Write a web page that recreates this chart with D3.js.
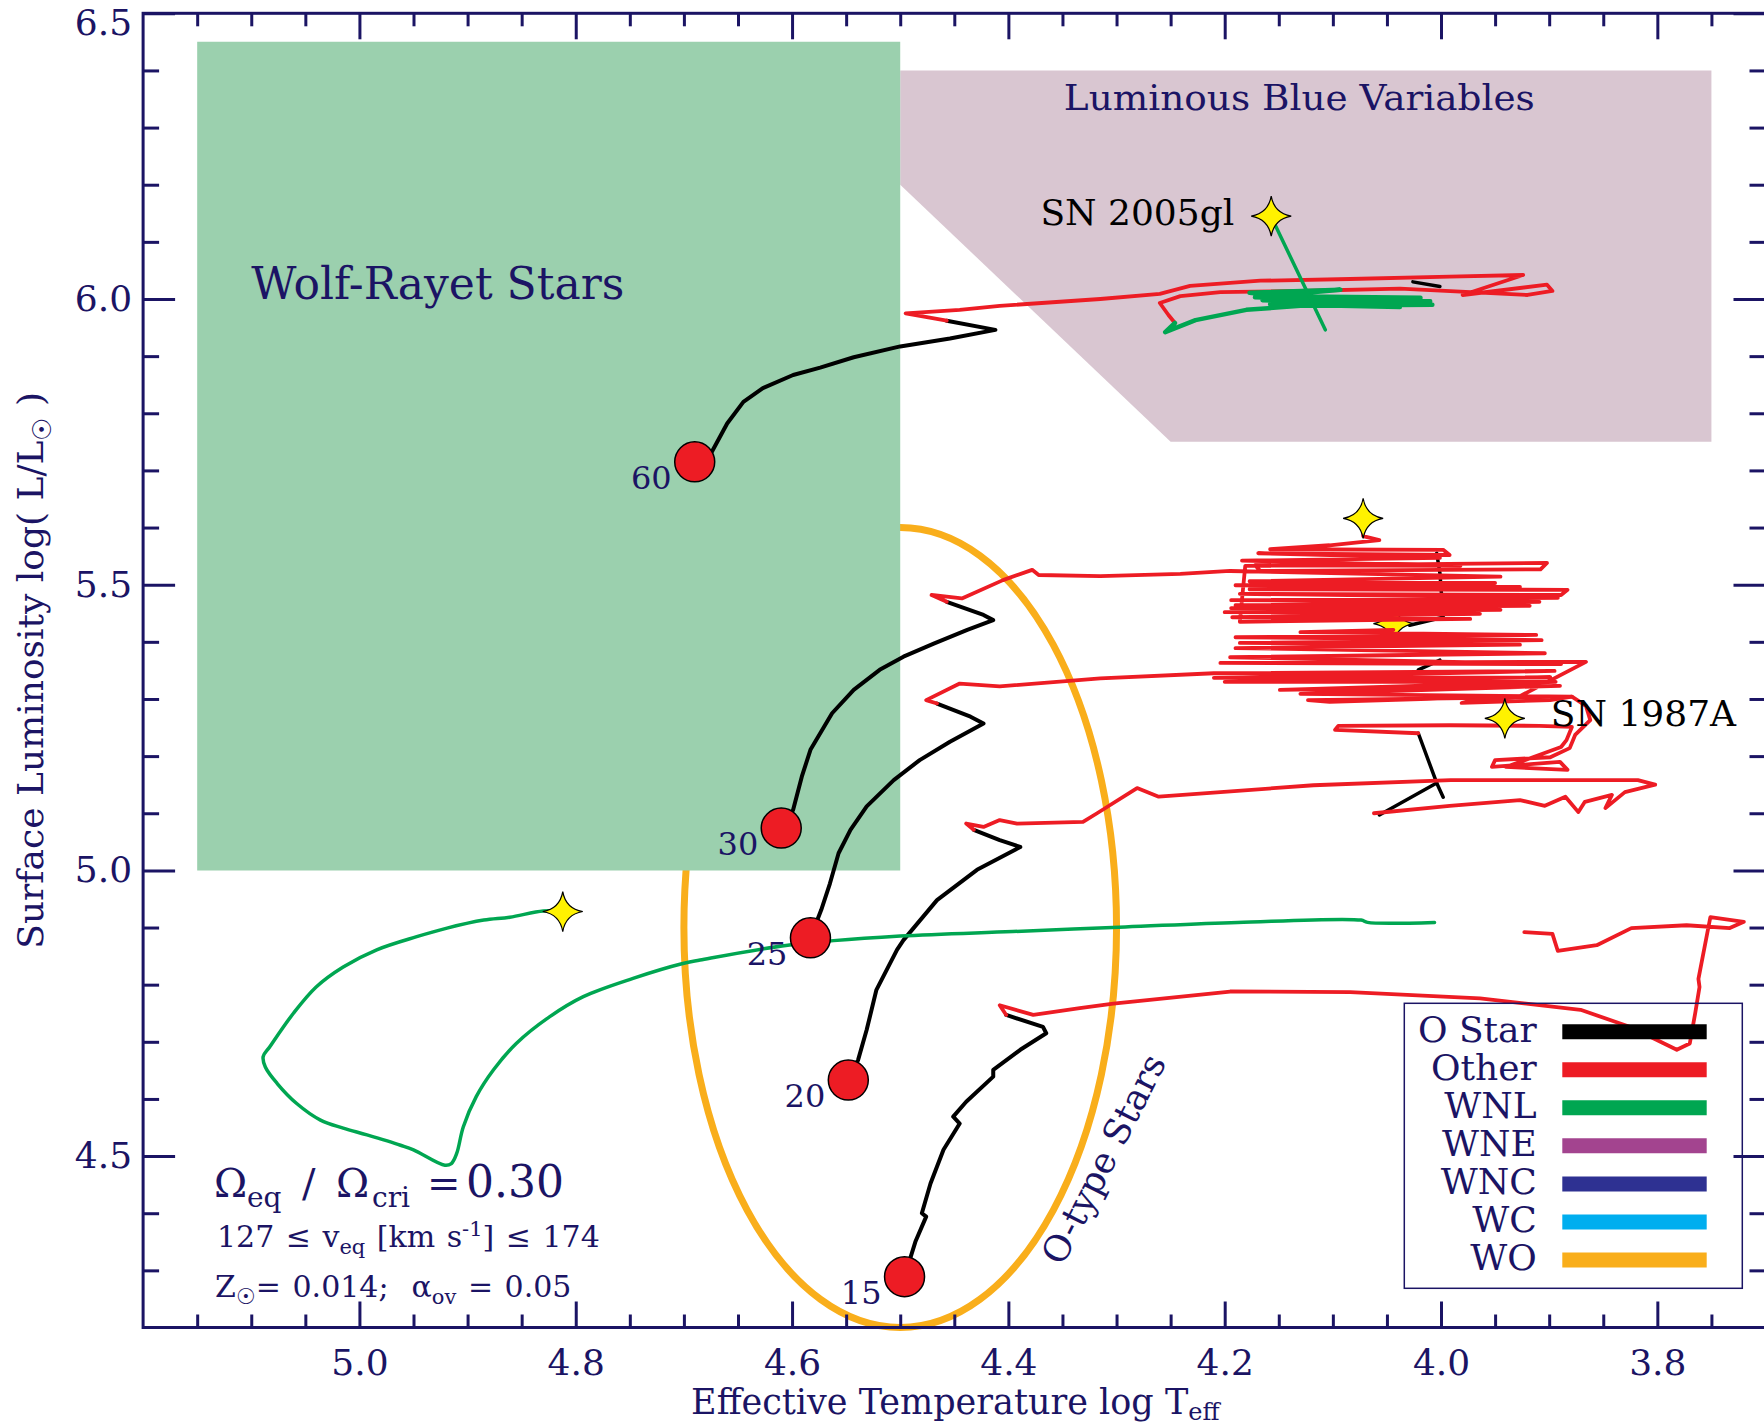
<!DOCTYPE html>
<html>
<head>
<meta charset="utf-8">
<script src="https://cdn.jsdelivr.net/npm/d3@7"></script>
<style>
  body { margin: 0; background: #fff; }
  svg { display: block; }
  text { font-family: "DejaVu Serif", serif; }
</style>
</head>
<body>
<div id="chart"></div>
<script>
// ---- axis ticks ----
var xMajorTicks = [5.0, 4.8, 4.6, 4.4, 4.2, 4.0, 3.8];
var yMajorTicks = [4.5, 5.0, 5.5, 6.0, 6.5];

// ---- shaded regions (log Teff, log L) ----
var wrRegion = [[5.15, 6.45], [4.5, 6.45], [4.5, 5.0], [5.15, 5.0]];
var lbvRegion = [[4.5, 6.4], [3.75, 6.4], [3.75, 5.75], [4.25, 5.75], [4.5, 6.2]];
var oStarCenter = [4.5, 4.9];
var oStarRadii = [0.2, 0.7];

// ---- ZAMS points ----
var zamsMasses = [60, 30, 25, 20, 15];
var zamsPoints = [[4.690, 5.715], [4.610, 5.074], [4.583, 4.882], [4.548, 4.633], [4.496, 4.289]];

// ---- tracks: O star phase ----
var oStar60 = [[4.690,5.715],[4.674,5.733],[4.660,5.782],[4.645,5.820],[4.627,5.844],[4.599,5.867],[4.574,5.880],[4.543,5.898],[4.500,5.917],[4.454,5.931],[4.412,5.946],[4.457,5.962]];
var oStar30 = [[4.610,5.074],[4.599,5.106],[4.591,5.164],[4.583,5.211],[4.563,5.275],[4.543,5.316],[4.519,5.351],[4.497,5.374],[4.469,5.397],[4.438,5.421],[4.414,5.438],[4.423,5.447],[4.457,5.470]];
var oStar25 = [[4.583,4.882],[4.573,4.931],[4.565,4.977],[4.557,5.030],[4.546,5.071],[4.531,5.112],[4.506,5.158],[4.482,5.193],[4.454,5.225],[4.423,5.257],[4.435,5.269],[4.466,5.292]];
var oStar20 = [[4.548,4.633],[4.539,4.668],[4.531,4.721],[4.522,4.791],[4.503,4.861],[4.497,4.878],[4.466,4.948],[4.429,5.001],[4.389,5.041],[4.408,5.053],[4.432,5.071]];
var oStar15 = [[4.496,4.289],[4.486,4.350],[4.476,4.394],[4.480,4.400],[4.472,4.452],[4.460,4.511],[4.445,4.557],[4.451,4.569],[4.439,4.595],[4.414,4.639],[4.414,4.651],[4.389,4.686],[4.365,4.715],[4.368,4.726],[4.402,4.747]];
var oStarLoops = [
  [[4.004,5.555],[4.001,5.520],[3.998,5.443],[4.029,5.429]],
  [[4.001,5.368],[4.021,5.351]],
  [[4.021,5.240],[4.004,5.153],[3.998,5.128]],
  [[4.004,5.153],[4.057,5.097]],
  [[4.026,6.030],[4.001,6.022]]
];

// ---- tracks: other phases ----
var other60 = [[4.457,5.962],[4.495,5.975],[4.445,5.981],[4.408,5.988],[4.315,6.000],[4.260,6.009],[4.232,6.023],[4.167,6.032],[4.084,6.035],[3.992,6.039],[3.924,6.042],[3.980,6.007],[3.902,6.025],[3.897,6.014],[3.920,6.007],[4.038,6.018],[4.130,6.014],[4.204,6.012],[4.241,6.005],[4.260,5.993],[4.252,5.972],[4.246,5.958]];
var other30 = [[4.457,5.470],[4.471,5.482],[4.443,5.476],[4.405,5.508],[4.378,5.526],[4.372,5.517],[4.315,5.515],[4.241,5.519],[4.195,5.524],
  [3.945,5.514],[4.177,5.506],[3.950,5.503],[4.190,5.499],[3.927,5.496],[4.177,5.492],[3.883,5.491],[3.889,5.482],[4.186,5.484],[3.892,5.477],[4.194,5.473],[3.909,5.470],[4.190,5.464],[3.918,5.463],[4.194,5.459],[3.945,5.456],[4.200,5.452],[3.964,5.449],[4.193,5.443],[3.973,5.440],[4.186,5.435],
  [4.181,5.533],[3.902,5.538],[3.908,5.527],[4.167,5.524],[4.172,5.534],[3.982,5.533],[4.184,5.542],[4.001,5.547],[4.169,5.555],[3.992,5.552],[3.998,5.561],[4.158,5.562],[4.103,5.569],[4.057,5.578],[4.072,5.585],[4.072,5.610]];
var other25 = [[4.466,5.292],[4.476,5.298],[4.445,5.327],[4.408,5.322],[4.315,5.336],[4.210,5.345],
  [3.895,5.349],[4.210,5.337],[3.899,5.338],[4.200,5.330],[3.894,5.330],[4.149,5.316],[3.890,5.323],[4.130,5.309],[3.879,5.304],[4.123,5.298],[4.103,5.295],[3.927,5.305],[3.866,5.365],
  [4.204,5.363],[3.889,5.361],[4.195,5.373],[3.904,5.380],[4.190,5.389],[3.927,5.395],[4.186,5.398],[3.907,5.403],[4.190,5.408],[3.912,5.412],[4.130,5.417],[4.044,5.421]];
var other20 = [[4.432,5.071],[4.439,5.082],[4.423,5.076],[4.408,5.088],[4.392,5.082],[4.331,5.085],[4.318,5.100],[4.281,5.144],[4.261,5.129],[4.118,5.149],[3.991,5.158],[3.818,5.158],[3.802,5.150],[3.830,5.137],[3.848,5.109],[3.842,5.132],[3.867,5.120],[3.873,5.102],[3.885,5.129],[3.904,5.113],[3.927,5.123],[3.992,5.113],[4.062,5.100]];
var other20b = [[4.021,5.240],[4.098,5.246],[4.095,5.253],[3.992,5.254],[3.909,5.253],[3.879,5.251],[3.884,5.228],[3.889,5.216],[3.940,5.181],[3.883,5.176],[3.890,5.190],[3.953,5.181],[3.950,5.193],[3.899,5.198],[3.881,5.214],[3.876,5.237],[3.862,5.263],[3.866,5.288],[3.879,5.304],[3.899,5.298],[3.981,5.293],[3.971,5.298],[3.925,5.304]];
var other15 = [[4.402,4.747],[4.408,4.764],[4.377,4.747],[4.334,4.759],[4.303,4.767],[4.195,4.788],[4.084,4.787],[3.964,4.776],[3.871,4.756],[3.825,4.726],[3.782,4.686],[3.770,4.697],[3.765,4.750],[3.761,4.796],[3.762,4.810],[3.751,4.918],[3.720,4.910],[3.733,4.899],[3.773,4.904],[3.824,4.899],[3.856,4.869],[3.892,4.859],[3.897,4.889],[3.923,4.892]];

// ---- tracks: WNL phase ----
var wnl60 = [[4.246,5.958],[4.255,5.942],[4.227,5.963],[4.180,5.981],[4.130,5.988],[4.008,5.990],[4.130,5.995],[4.165,5.998],[4.019,6.002],[4.149,6.005],[4.177,6.011],[4.093,6.016],[4.172,6.003],[4.010,5.996],[4.158,5.991],[4.038,5.986],[4.130,5.998]];
var wnl60Tail = [[4.107,5.946],[4.157,6.144]];
var wnlLow = [[4.006,4.909],[4.068,4.909],[4.074,4.913],[4.188,4.909],[4.292,4.901],[4.396,4.893],[4.500,4.885],[4.604,4.869],[4.685,4.843],[4.701,4.837],[4.747,4.811],[4.793,4.779],[4.824,4.744],[4.855,4.697],[4.876,4.651],[4.892,4.604],[4.904,4.551],[4.910,4.505],[4.915,4.487],[4.921,4.484],[4.950,4.511],[4.962,4.519],[4.993,4.537],[5.015,4.549],[5.036,4.563],[5.058,4.592],[5.076,4.627],[5.087,4.656],[5.089,4.674],[5.083,4.691],[5.061,4.750],[5.040,4.796],[5.015,4.831],[4.984,4.861],[4.947,4.884],[4.919,4.899],[4.885,4.913],[4.861,4.918],[4.830,4.929],[4.812,4.928]];

// ---- supernova / end points ----
var starPoints = [[4.157, 6.145], [4.072, 5.616], [3.941, 5.266], [4.812, 4.928]];
var coveredStarPoints = [[4.044, 5.432]];

// ---- legend ----
var legendLabels = ["O Star", "Other", "WNL", "WNE", "WNC", "WC", "WO"];
var legendColors = ["#000000", "#ed1c24", "#00a651", "#a3448f", "#2e3192", "#00aeef", "#f9ae1b"];

var W = 1764, H = 1428;
var navy = "#1b1464";

var x = d3.scaleLinear().domain([5.2, 3.7]).range([143.1, 1765.5]);
var y = d3.scaleLinear().domain([4.2, 6.5]).range([1327.5, 13.3]);

var svg = d3.select("#chart").append("svg")
    .attr("width", W)
    .attr("height", H)
    .style("background", "#fff");

var line = d3.line()
    .x(function(d) { return x(d[0]); })
    .y(function(d) { return y(d[1]); });

// regions
svg.append("path")
    .attr("d", line(lbvRegion) + "Z")
    .attr("fill", "#d9c6d1");

svg.append("ellipse")
    .attr("cx", x(oStarCenter[0]))
    .attr("cy", y(oStarCenter[1]))
    .attr("rx", x(oStarCenter[0] - oStarRadii[0]) - x(oStarCenter[0]))
    .attr("ry", y(oStarCenter[1] - oStarRadii[1]) - y(oStarCenter[1]))
    .attr("fill", "none")
    .attr("stroke", legendColors[6])
    .attr("stroke-width", 7);

svg.append("path")
    .attr("d", line(wrRegion) + "Z")
    .attr("fill", "#9bd0ae");

svg.append("text")
    .attr("x", x(5.10)).attr("y", y(6.0))
    .attr("font-size", 44).attr("fill", navy)
    .attr("textLength", 373).attr("lengthAdjust", "spacingAndGlyphs")
    .text("Wolf-Rayet Stars");

svg.append("text")
    .attr("x", x(4.131)).attr("y", y(6.331))
    .attr("text-anchor", "middle")
    .attr("font-size", 36).attr("fill", navy)
    .attr("textLength", 471).attr("lengthAdjust", "spacingAndGlyphs")
    .text("Luminous Blue Variables");

svg.append("text")
    .attr("transform", "translate(" + x(4.312) + "," + y(4.495) + ") rotate(-63)")
    .attr("text-anchor", "middle")
    .attr("dy", "0.35em")
    .attr("font-size", 36).attr("fill", navy)
    .text("O-type Stars");

// tracks
function drawTrack(data, color, width, curve) {
  svg.append("path")
    .attr("d", line.curve(curve || d3.curveLinear)(data))
    .attr("fill", "none")
    .attr("stroke", color)
    .attr("stroke-width", width)
    .attr("stroke-linejoin", "round")
    .attr("stroke-linecap", "round");
  line.curve(d3.curveLinear);
}

var star = "M0,-20 Q3,-3 20,0 Q3,3 0,20 Q-3,3 -20,0 Q-3,-3 0,-20 Z";
function drawStars(points) {
  svg.selectAll(null)
    .data(points)
    .enter().append("path")
    .attr("d", star)
    .attr("transform", function(d) { return "translate(" + x(d[0]) + "," + y(d[1]) + ")"; })
    .attr("fill", "#fff200")
    .attr("stroke", "#000")
    .attr("stroke-width", 1.2);
}

[oStar60, oStar30, oStar25, oStar20, oStar15].forEach(function(t) { drawTrack(t, legendColors[0], 4); });
oStarLoops.forEach(function(t) { drawTrack(t, legendColors[0], 3.5); });
drawStars(coveredStarPoints);
[other60, other30, other25, other20, other20b, other15].forEach(function(t) { drawTrack(t, legendColors[1], 3.8); });
drawTrack(wnl60, legendColors[2], 4.5);
drawTrack(wnl60Tail, legendColors[2], 3.5);
drawTrack(wnlLow, legendColors[2], 3.5, d3.curveCatmullRom.alpha(0.5));
drawStars(starPoints);

// SN labels
svg.append("text")
    .attr("x", x(starPoints[0][0]) - 37).attr("y", y(starPoints[0][1]) + 9)
    .attr("text-anchor", "end").attr("font-size", 36).attr("fill", "#000")
    .text("SN 2005gl");
svg.append("text")
    .attr("x", x(starPoints[2][0]) + 46).attr("y", y(starPoints[2][1]) + 8)
    .attr("font-size", 36).attr("fill", "#000")
    .text("SN 1987A");

// ZAMS dots and masses
svg.selectAll(".zams")
    .data(zamsPoints)
    .enter().append("circle")
    .attr("class", "zams")
    .attr("cx", function(d) { return x(d[0]); })
    .attr("cy", function(d) { return y(d[1]); })
    .attr("r", 20)
    .attr("fill", "#ed1c24")
    .attr("stroke", "#000")
    .attr("stroke-width", 1.5);

svg.selectAll(".mass")
    .data(zamsPoints)
    .enter().append("text")
    .attr("class", "mass")
    .attr("x", function(d) { return x(d[0]) - 23; })
    .attr("y", function(d) { return y(d[1]) + 27; })
    .attr("text-anchor", "end")
    .attr("font-size", 32)
    .attr("fill", navy)
    .text(function(d, i) { return zamsMasses[i]; });

// legend
var lg = svg.append("g");
lg.append("rect")
    .attr("x", 1404.3).attr("y", 1003.3)
    .attr("width", 338).attr("height", 285)
    .attr("fill", "none").attr("stroke", navy).attr("stroke-width", 1.5);
legendLabels.forEach(function(lab, i) {
  var ly = 1031.7 + i * 38.05;
  lg.append("text")
    .attr("x", 1536.7).attr("y", ly + 10)
    .attr("text-anchor", "end").attr("font-size", 36).attr("fill", navy)
    .text(lab);
  lg.append("line")
    .attr("x1", 1562.3).attr("x2", 1706.7)
    .attr("y1", ly).attr("y2", ly)
    .attr("stroke", legendColors[i]).attr("stroke-width", 15);
});

// axes
var xMinor = d3.range(5.15, 3.72, -0.05).filter(function(v) {
  return xMajorTicks.every(function(m) { return Math.abs(m - v) > 1e-6; });
});
var yMinor = d3.range(4.3, 6.45, 0.1).filter(function(v) {
  return yMajorTicks.every(function(m) { return Math.abs(m - v) > 1e-6; });
});

function styleAxis(g) {
  g.select(".domain").remove();
  g.selectAll(".tick line").attr("stroke", navy).attr("stroke-width", 3);
  g.selectAll(".tick text").attr("fill", navy).attr("font-size", 36)
    .attr("font-family", "DejaVu Serif");
}

svg.append("g").attr("transform", "translate(0," + y(4.2) + ")")
    .call(d3.axisBottom(x).tickValues(xMajorTicks).tickSize(-26).tickPadding(22).tickFormat(d3.format(".1f")))
    .call(styleAxis);
svg.append("g").attr("transform", "translate(0," + y(4.2) + ")")
    .call(d3.axisBottom(x).tickValues(xMinor).tickSize(-13).tickFormat(""))
    .call(styleAxis);
svg.append("g").attr("transform", "translate(0," + y(6.5) + ")")
    .call(d3.axisTop(x).tickValues(xMajorTicks).tickSize(-26).tickFormat(""))
    .call(styleAxis);
svg.append("g").attr("transform", "translate(0," + y(6.5) + ")")
    .call(d3.axisTop(x).tickValues(xMinor).tickSize(-13).tickFormat(""))
    .call(styleAxis);
svg.append("g").attr("transform", "translate(" + x(5.2) + ",0)")
    .call(d3.axisLeft(y).tickValues(yMajorTicks).tickSize(-32).tickPadding(11).tickFormat(d3.format(".1f")))
    .call(styleAxis)
    .selectAll(".tick text")
    .filter(function(d) { return d === 6.5; })
    .attr("dy", "0.6em");
svg.append("g").attr("transform", "translate(" + x(5.2) + ",0)")
    .call(d3.axisLeft(y).tickValues(yMinor).tickSize(-16).tickFormat(""))
    .call(styleAxis);
svg.append("g").attr("transform", "translate(" + x(3.7) + ",0)")
    .call(d3.axisRight(y).tickValues(yMajorTicks).tickSize(-32).tickFormat(""))
    .call(styleAxis);
svg.append("g").attr("transform", "translate(" + x(3.7) + ",0)")
    .call(d3.axisRight(y).tickValues(yMinor).tickSize(-16).tickFormat(""))
    .call(styleAxis);

svg.append("rect")
    .attr("x", x(5.2)).attr("y", y(6.5))
    .attr("width", x(3.7) - x(5.2)).attr("height", y(4.2) - y(6.5))
    .attr("fill", "none").attr("stroke", navy).attr("stroke-width", 3);

// axis titles
var xt = svg.append("text")
    .attr("x", (x(5.2) + x(3.7)) / 2 + 1).attr("y", 1414)
    .attr("text-anchor", "middle").attr("font-size", 35).attr("fill", navy);
xt.append("tspan").text("Effective Temperature log T");
xt.append("tspan").attr("font-size", 24).attr("dy", 6).text("eff");

var yt = svg.append("text")
    .attr("transform", "translate(43," + (y(4.2) + y(6.5)) / 2 + ") rotate(-90)")
    .attr("text-anchor", "middle").attr("font-size", 36).attr("fill", navy);
yt.append("tspan").text("Surface Luminosity log( L/L");
yt.append("tspan").attr("font-size", 26).attr("dy", 8).text("\u2609");
yt.append("tspan").attr("dy", -8).text(" )");

// model parameters
var p1 = svg.append("text").attr("y", 1197).attr("font-size", 40).attr("fill", navy);
p1.append("tspan").attr("x", 214).text("\u03A9");
p1.append("tspan").attr("x", 247).attr("font-size", 28).attr("dy", 10).text("eq");
p1.append("tspan").attr("x", 302).attr("dy", -10).text("/");
p1.append("tspan").attr("x", 336).text("\u03A9");
p1.append("tspan").attr("x", 372).attr("font-size", 28).attr("dy", 10).text("cri");
p1.append("tspan").attr("x", 427).attr("dy", -10).text("=");
p1.append("tspan").attr("x", 466).attr("font-size", 44).text("0.30");

var p2 = svg.append("text").attr("x", 217).attr("y", 1247).attr("font-size", 30)
    .attr("word-spacing", 2).attr("fill", navy);
p2.append("tspan").text("127 \u2264 v");
p2.append("tspan").attr("font-size", 21).attr("dy", 7).text("eq");
p2.append("tspan").attr("dy", -7).text(" [km s");
p2.append("tspan").attr("font-size", 21).attr("dy", -11).text("-1");
p2.append("tspan").attr("dy", 11).text("] \u2264 174");

var p3 = svg.append("text").attr("x", 215).attr("y", 1297).attr("font-size", 30)
    .attr("word-spacing", 2).attr("fill", navy);
p3.append("tspan").text("Z");
p3.append("tspan").attr("font-size", 22).attr("dy", 7).text("\u2609");
p3.append("tspan").attr("dy", -7).text("= 0.014;\u00a0 \u03B1");
p3.append("tspan").attr("font-size", 21).attr("dy", 7).text("ov");
p3.append("tspan").attr("dy", -7).text(" = 0.05");
</script>
</body>
</html>
